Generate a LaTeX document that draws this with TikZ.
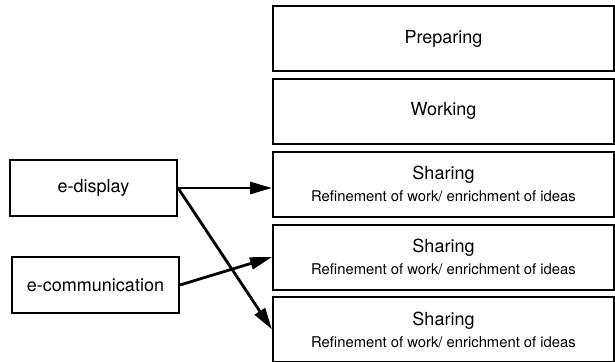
\documentclass[tikz,border=0pt]{standalone}
\usepackage{fontspec}
\setmainfont{TeX Gyre Heros}
\usetikzlibrary{arrows.meta}

\begin{document}
\begin{tikzpicture}[x=0.5pt,y=-0.5pt]
            \tikzstyle{phaseBox}=[rectangle,draw,line width=1pt,minimum width=170.5pt,minimum height=32.5pt,font=\fontsize{9}{10.5}\selectfont,align=center,inner sep=0pt];
            \tikzstyle{toolBox}=[rectangle,draw,line width=1pt,minimum width=83.5pt,minimum height=28pt,font=\fontsize{9}{10.5}\selectfont,inner sep=0pt];
            \tikzstyle{link}=[line width=1.4pt,-{Triangle[length=11pt,width=6pt]}];
            \useasboundingbox (0,0) rectangle (615,361);
            \node[phaseBox] (prep) at (443.5,38.5) {Preparing};
            \node[phaseBox] (work) at (443.5,111) {Working};
            \node[phaseBox] (shareA) at (443.5,184) {Sharing\\[0.5pt]{\fontsize{7.4}{8.5}\selectfont Refinement of work/ enrichment of ideas}};
            \node[phaseBox] (shareB) at (443.5,257) {Sharing\\[0.5pt]{\fontsize{7.4}{8.5}\selectfont Refinement of work/ enrichment of ideas}};
            \node[phaseBox] (shareC) at (443.5,329.5) {Sharing\\[0.5pt]{\fontsize{7.4}{8.5}\selectfont Refinement of work/ enrichment of ideas}};
            \node[toolBox] (disp) at (93.5,188) {e-display};
            \node[toolBox] (comm) at (95.5,285) {e-communication};
            \draw[link] (disp.east) -- (shareA.west |- disp.east);
            \draw[link] (disp.east) -- (shareC.west);
            \draw[link] (comm.east) -- (shareB.west);
\end{tikzpicture}
\end{document}
